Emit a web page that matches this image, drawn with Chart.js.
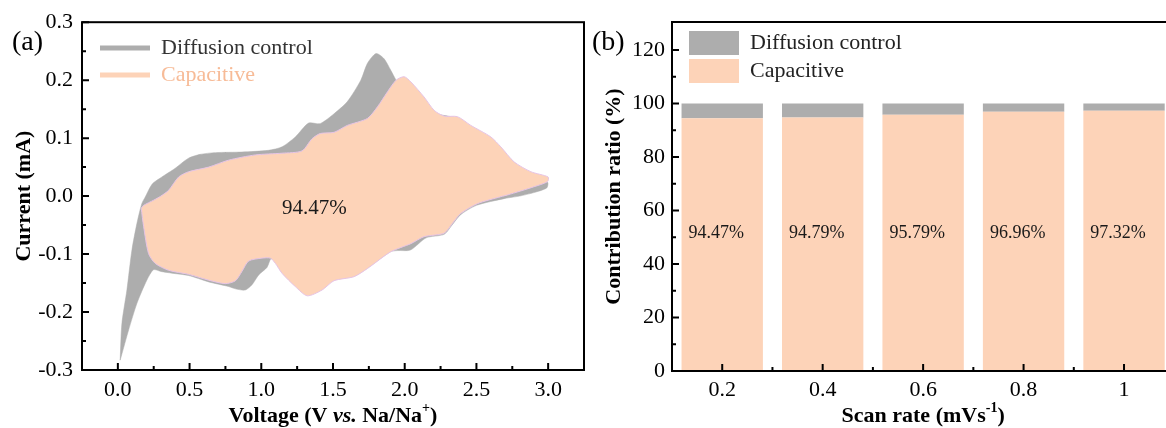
<!DOCTYPE html>
<html>
<head>
<meta charset="utf-8">
<script src="https://cdn.jsdelivr.net/npm/chart.js@4.4.1/dist/chart.umd.min.js"></script>
<style>
  body { margin: 0; background: #fff; overflow: hidden; width: 1166px; height: 428px; position: relative; }
  canvas { position: absolute; top: 0; }
  #cvA { left: 0; }
  #cvB { left: 585px; }
</style>
</head>
<body>
<canvas id="cvA" width="590" height="428"></canvas>
<canvas id="cvB" width="600" height="428"></canvas>
<script>
// (a) CV loop: total current (anodic branch then cathodic branch back)
const totalV = [0.016, 0.028, 0.063, 0.098, 0.133, 0.167, 0.19, 0.24, 0.307, 0.40, 0.49, 0.574, 0.68, 0.865,
  1.05, 1.145, 1.237, 1.33, 1.41, 1.507, 1.60, 1.694, 1.74, 1.80, 1.856, 1.903, 1.94, 1.98, 2.05, 2.15, 2.24,
  2.30, 2.37, 2.46, 2.60, 2.70, 2.80, 2.90, 2.996,
  2.99, 2.9, 2.8, 2.7, 2.5, 2.39, 2.33, 2.275, 2.15, 2.04, 1.95, 1.90, 1.74, 1.647, 1.507, 1.40, 1.32, 1.214,
  1.144, 1.07, 1.04, 0.982, 0.935, 0.888, 0.82, 0.772, 0.633, 0.493, 0.377, 0.30, 0.249, 0.202, 0.133, 0.075,
  0.023, 0.016];
const totalI = [-0.283, -0.22, -0.162, -0.093, -0.047, -0.013, -0.002, 0.021, 0.033, 0.048, 0.065, 0.072, 0.075, 0.076,
  0.079, 0.085, 0.102, 0.126, 0.125, 0.142, 0.163, 0.20, 0.229, 0.246, 0.237, 0.217, 0.20, 0.185, 0.168, 0.150, 0.141,
  0.138, 0.134, 0.118, 0.095, 0.073, 0.05, 0.036, 0.024,
  0.014, 0.006, 0.0, -0.004, -0.016, -0.032, -0.05, -0.066, -0.072, -0.093, -0.094, -0.096, -0.124, -0.138, -0.144,
  -0.155, -0.165, -0.14, -0.125, -0.108, -0.123, -0.136, -0.153, -0.162, -0.16, -0.156, -0.148, -0.137, -0.133,
  -0.130, -0.127, -0.145, -0.185, -0.231, -0.277, -0.283];

// (a) capacitive part of the loop
const capV = [0.163, 0.18, 0.25, 0.30, 0.354, 0.424, 0.493, 0.633, 0.772, 0.958, 1.144, 1.284, 1.354, 1.412, 1.507,
  1.60, 1.74, 1.81, 1.88, 1.94, 1.996, 2.043, 2.135, 2.205, 2.275, 2.368, 2.461, 2.601, 2.67, 2.763, 2.88, 3.0,
  2.996, 2.90, 2.717, 2.67, 2.507, 2.39, 2.333, 2.275, 2.135, 2.043, 1.903, 1.74, 1.647, 1.507, 1.424, 1.32, 1.237,
  1.144, 1.098, 1.063, 1.005, 0.912, 0.865, 0.82, 0.749, 0.633, 0.493, 0.354, 0.26, 0.214, 0.18, 0.163];
const capI = [-0.021, -0.016, -0.007, 0.0, 0.01, 0.033, 0.042, 0.05, 0.062, 0.071, 0.074, 0.078, 0.099, 0.108, 0.11,
  0.122, 0.134, 0.154, 0.18, 0.20, 0.206, 0.197, 0.171, 0.148, 0.138, 0.137, 0.122, 0.102, 0.085, 0.059, 0.042, 0.033,
  0.025, 0.016, 0.002, -0.001, -0.013, -0.03, -0.047, -0.064, -0.07, -0.082, -0.096, -0.125, -0.139, -0.146, -0.162,
  -0.172, -0.156, -0.133, -0.116, -0.107, -0.107, -0.112, -0.13, -0.146, -0.151, -0.145, -0.135, -0.128, -0.116,
  -0.099, -0.053, -0.021];

const voltTicks = [0, 0.5, 1, 1.5, 2, 2.5, 3];
const currTicks = [-0.3, -0.2, -0.1, 0, 0.1, 0.2, 0.3];
const cvNote = '94.47%';

// (b) contribution ratio per scan rate
const scanRates = ['0.2', '0.4', '0.6', '0.8', '1'];
const capRatio = [94.47, 94.79, 95.79, 96.96, 97.32];
const diffRatio = [5.53, 5.21, 4.21, 3.04, 2.68];
const ratioTicks = [0, 20, 40, 60, 80, 100, 120];

const FONT = '"Liberation Serif", "Times New Roman", serif';
const GRAY = '#adadad';
const PEACH = '#fdd3b8';
Chart.defaults.font.family = FONT;
Chart.defaults.color = '#000';

const toPts = (xs, ys) => xs.map((x, i) => ({ x: x, y: ys[i] }));
const midpoints = arr => arr.slice(1).map((v, i) => (v + arr[i]) / 2);

// box round the plot + inward tick marks
const framePlugin = {
    id: 'frame',
    afterDatasetsDraw(chart, args, o) {
        const { ctx, chartArea: a, scales } = chart;
        ctx.save();
        ctx.strokeStyle = '#000';
        ctx.lineWidth = 2;
        ctx.strokeRect(a.left, a.top, a.right - a.left, a.bottom - a.top);
        ctx.beginPath();
        const xt = (v, len) => { const p = scales.x.getPixelForValue(v); ctx.moveTo(p, a.bottom); ctx.lineTo(p, a.bottom - len); };
        const yt = (v, len) => { const p = scales.y.getPixelForValue(v); ctx.moveTo(a.left, p); ctx.lineTo(a.left + len, p); };
        o.xMajor.forEach(v => xt(v, 7));
        o.xMinor.forEach(v => xt(v, 4));
        o.yMajor.forEach(v => yt(v, 7));
        o.yMinor.forEach(v => yt(v, 4));
        ctx.stroke();
        ctx.restore();
    }
};

// titles with mixed styles (italic, superscript)
function drawRich(ctx, it) {
    const size = it.size;
    const fontOf = p => `${p.style || 'bold'} ${p.sup ? Math.round(size * 0.62) : size}px ${FONT}`;
    ctx.save();
    ctx.translate(it.x, it.y);
    if (it.rot) ctx.rotate(it.rot);
    ctx.textBaseline = 'middle';
    ctx.textAlign = 'left';
    ctx.fillStyle = '#000';
    let w = 0;
    it.parts.forEach(p => { ctx.font = fontOf(p); w += ctx.measureText(p.t).width; });
    let x = it.left ? 0 : -w / 2;
    it.parts.forEach(p => {
        ctx.font = fontOf(p);
        ctx.fillText(p.t, x, p.sup ? -size * 0.33 : 0);
        x += ctx.measureText(p.t).width;
    });
    ctx.restore();
}

const titlesPlugin = {
    id: 'titles',
    afterDraw(chart, args, o) {
        const a = chart.chartArea;
        const cx = (a.left + a.right) / 2, cy = (a.top + a.bottom) / 2;
        drawRich(chart.ctx, { x: cx, y: 416, size: 22, parts: o.xTitle });
        drawRich(chart.ctx, { x: o.yTitleX, y: cy, size: 22, rot: -Math.PI / 2, parts: o.yTitle });
        drawRich(chart.ctx, { x: o.panelX, y: 43, size: 28, left: true, parts: [{ t: o.panel, style: 'normal' }] });
    }
};

// put the legend where it sits in the figure
const legendPlace = {
    id: 'legendPlace',
    afterLayout(chart, args, o) {
        const lg = chart.legend;
        lg.left = o.x; lg.top = o.y;
        lg.right = lg.left + lg.width;
        lg.bottom = lg.top + lg.height;
    }
};

// percentage texts
const notesPlugin = {
    id: 'notes',
    afterDatasetsDraw(chart, args, o) {
        const ctx = chart.ctx;
        ctx.save();
        ctx.fillStyle = '#1a1a1a';
        ctx.textBaseline = 'middle';
        ctx.textAlign = 'left';
        ctx.font = `${o.size}px ${FONT}`;
        if (o.bars) {
            const meta = chart.getDatasetMeta(o.bars);
            const yy = chart.scales.y.getPixelForValue(o.level);
            meta.data.forEach((bar, i) => {
                ctx.fillText(capRatio[i].toFixed(2) + '%', bar.x - bar.width / 2 + 7, yy);
            });
        } else {
            ctx.fillText(o.text, chart.scales.x.getPixelForValue(o.at[0]), chart.scales.y.getPixelForValue(o.at[1]));
        }
        ctx.restore();
    }
};

const legendLabels = chart => chart.data.datasets.map((ds, i) => ({
    text: ds.label, fillStyle: ds.backgroundColor, strokeStyle: ds.backgroundColor,
    lineWidth: 0, fontColor: ds.textColor, hidden: false, datasetIndex: i
}));

const noGrid = { display: false, drawTicks: false };

// ---------- (a) ----------
new Chart(document.getElementById('cvA'), {
    type: 'line',
    data: {
        datasets: [{
            label: 'Diffusion control',
            data: toPts(totalV, totalI),
            backgroundColor: GRAY,
            borderColor: GRAY,
            borderWidth: 0.5,
            fill: 'shape',
            order: 2,
            textColor: '#333333'
        }, {
            label: 'Capacitive',
            data: toPts(capV, capI),
            backgroundColor: PEACH,
            borderColor: '#e6c4e6',
            borderWidth: 1,
            fill: 'shape',
            order: 1,
            textColor: '#f7bb97'
        }]
    },
    options: {
        responsive: false,
        animation: false,
        layout: { padding: { top: 22, right: 6, left: 0, bottom: 0 } },
        elements: { point: { radius: 0 }, line: { tension: 0.25 } },
        scales: {
            x: {
                type: 'linear', min: -0.25, max: 3.25,
                grid: noGrid, border: { display: false },
                afterBuildTicks: s => { s.ticks = voltTicks.map(v => ({ value: v })); },
                afterFit: s => { s.height = 58; },
                ticks: { padding: 7, font: { size: 22 }, color: '#000', callback: v => v.toFixed(1) }
            },
            y: {
                type: 'linear', min: -0.3, max: 0.3,
                grid: noGrid, border: { display: false },
                afterBuildTicks: s => { s.ticks = currTicks.map(v => ({ value: v })); },
                afterFit: s => { s.width = 82; },
                ticks: { padding: 9, font: { size: 22 }, color: '#000', callback: v => v.toFixed(1) }
            }
        },
        plugins: {
            legend: {
                position: 'chartArea',
                align: 'start',
                labels: { boxWidth: 50, boxHeight: 5, padding: 5, font: { size: 22 }, generateLabels: legendLabels }
            },
            legendPlace: { x: 95, y: 32 },
            tooltip: { enabled: false },
            frame: { xMajor: voltTicks, xMinor: midpoints(voltTicks), yMajor: currTicks, yMinor: midpoints(currTicks) },
            titles: {
                xTitle: [{ t: 'Voltage (V ' }, { t: 'vs.', style: 'italic bold' }, { t: ' Na/Na' }, { t: '+', sup: true }, { t: ')' }],
                yTitle: [{ t: 'Current (mA)' }],
                yTitleX: 24, panel: '(a)', panelX: 12
            },
            notes: { size: 21, text: cvNote, at: [1.144, -0.021] }
        }
    },
    plugins: [framePlugin, titlesPlugin, legendPlace, notesPlugin]
});

// ---------- (b) ----------
new Chart(document.getElementById('cvB'), {
    type: 'bar',
    data: {
        labels: scanRates,
        datasets: [{
            label: 'Diffusion control',
            data: diffRatio,
            backgroundColor: GRAY,
            order: 2,
            textColor: '#222222'
        }, {
            label: 'Capacitive',
            data: capRatio,
            backgroundColor: PEACH,
            order: 1,
            textColor: '#222222'
        }]
    },
    options: {
        responsive: false,
        animation: false,
        layout: { padding: { top: 22, right: 10.75, left: 0, bottom: 0 } },
        datasets: { bar: { categoryPercentage: 1, barPercentage: 0.81, borderWidth: 0 } },
        scales: {
            x: {
                stacked: true,
                grid: noGrid, border: { display: false },
                afterFit: s => { s.height = 57; },
                ticks: { padding: 6, font: { size: 22 }, color: '#000' }
            },
            y: {
                stacked: true, min: 0, max: 130.5,
                grid: noGrid, border: { display: false },
                afterBuildTicks: s => { s.ticks = ratioTicks.map(v => ({ value: v })); },
                afterFit: s => { s.width = 87; },
                ticks: { padding: 7, font: { size: 22 }, color: '#000' }
            }
        },
        plugins: {
            legend: {
                position: 'chartArea',
                align: 'start',
                labels: { boxWidth: 50, boxHeight: 24, padding: 4, font: { size: 22 }, generateLabels: legendLabels }
            },
            legendPlace: { x: 100, y: 27 },
            tooltip: { enabled: false },
            frame: {
                xMajor: scanRates.map((c, i) => i), xMinor: scanRates.slice(1).map((c, i) => i + 0.5),
                yMajor: ratioTicks, yMinor: midpoints(ratioTicks)
            },
            titles: {
                xTitle: [{ t: 'Scan rate (mVs' }, { t: '-1', sup: true }, { t: ')' }],
                yTitle: [{ t: 'Contribution ratio (%)' }],
                yTitleX: 29, panel: '(b)', panelX: 7
            },
            notes: { size: 18, bars: 1, level: 51.5 }
        }
    },
    plugins: [framePlugin, titlesPlugin, legendPlace, notesPlugin]
});
</script>
</body>
</html>
